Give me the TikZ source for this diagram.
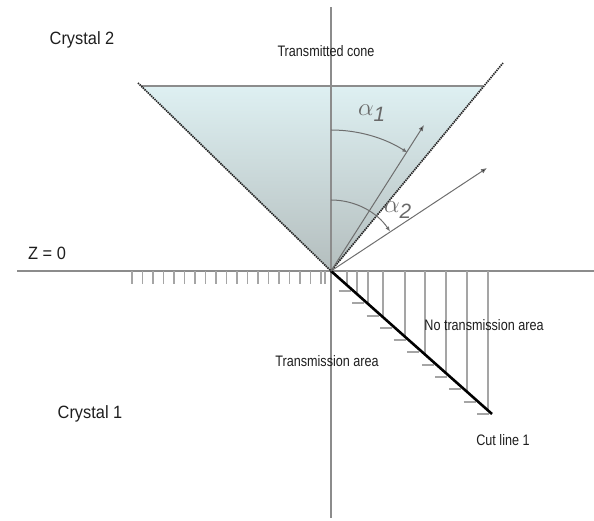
\documentclass[tikz,border=0pt]{standalone}
\usepackage{fontspec}
\setmainfont{Liberation Sans}
\newfontfamily\smallfam[FakeStretch=0.83]{Liberation Sans}
\newfontfamily\bigfam[FakeStretch=0.92]{Liberation Sans}
\usetikzlibrary{arrows.meta}
\definecolor{axisgray}{RGB}{140,140,140}
\definecolor{hatchgray}{RGB}{165,165,165}
\definecolor{conetop}{RGB}{222,240,242}
\definecolor{conebot}{RGB}{180,190,190}
\definecolor{alphagray}{RGB}{105,105,105}
\definecolor{raygray}{RGB}{110,110,110}
\definecolor{txt}{RGB}{30,30,30}
\begin{document}
\begin{tikzpicture}[x=1pt,y=1pt,
  axis/.style={draw=axisgray,line width=1.3pt},
  hatch/.style={draw=hatchgray,line width=1.2pt},
  coneedge/.style={draw=black!85,line width=1.7pt,dash pattern=on 1.4pt off 0.9pt},
  ray/.style={draw=raygray,line width=1pt,-{Latex[length=6pt,width=5pt,fill=black]}},
  anglearc/.style={draw=raygray,line width=1pt,-{Latex[length=5pt,width=4pt,fill=black]}},
  lab/.style={text=txt,inner sep=0pt},
  biglab/.style={lab,font=\bigfam\fontsize{17.8}{20}\selectfont},
  smalllab/.style={lab,font=\smallfam\fontsize{15.2}{17}\selectfont},
  alab/.style={text=alphagray,inner sep=0pt,font=\fontsize{24.88}{26}\selectfont}
]
\useasboundingbox (0,0) rectangle (594,521);
\coordinate (O) at (331,250);
\coordinate (TL) at (141,435);
\coordinate (TR) at (483,435);
\coordinate (TLx) at (138,438);
\coordinate (TRx) at (503,458);
\coordinate (C) at (492,107);
\coordinate (A1) at (424,396);
\coordinate (A2) at (487,353);
% cone
\fill[top color=conetop,bottom color=conebot] (TL) -- (TR) -- (O) -- cycle;
% axes
\draw[axis] (331,3) -- (331,514);
\draw[axis] (17,250) -- (594,250);
\draw[axis] (TL) -- (TR);
\draw[coneedge] (TLx) -- (O) -- (TRx);
% left hatch
\foreach \k in {0,...,18} \draw[hatch] ({132+10.5*\k},250) -- ({132+10.5*\k},237);
\draw[hatch] (325,250) -- (325,237);
% no-transmission hatch
\foreach \x in {347,357,368,383,405,425,446,467,488}
  \draw[hatch] (\x,250) -- (\x,{250-0.888*(\x-331)});
\foreach \y in {230,218,205,193,181,169,156,144,132,119,107}
  \draw[hatch] ({331+(250-\y)/0.888-15},\y) -- ({331+(250-\y)/0.888-3},\y);
% cut line
\draw[line width=2.6pt] (O) -- (C);
% rays and angles
\draw[ray] (O) -- (A1);
\draw[ray] (O) -- (A2);
\draw[anglearc] ([shift={(90:141)}]O) arc[start angle=90,end angle=57.2,radius=141];
\draw[anglearc] ([shift={(90:71)}]O) arc[start angle=90,end angle=33.7,radius=71];
% labels
\node[biglab] (c2) at (82,481) {Crystal 2};
\node[smalllab] (tc) at (326,470) {Transmitted cone};
\node[biglab] (z0) at (47,268) {Z = 0};
\node[smalllab] (nt) at (484,196) {No transmission area};
\node[smalllab] (ta) at (327,160) {Transmission area};
\node[biglab] (c1) at (90,107) {Crystal 1};
\node[smalllab] (cl) at (503,81) {Cut line 1};
\node[alab] (a1) at (372,408) {$\alpha_{\mathit{1}}$};
\node[alab] (a2) at (398,311) {$\alpha_{\mathit{2}}$};
\end{tikzpicture}
\end{document}
